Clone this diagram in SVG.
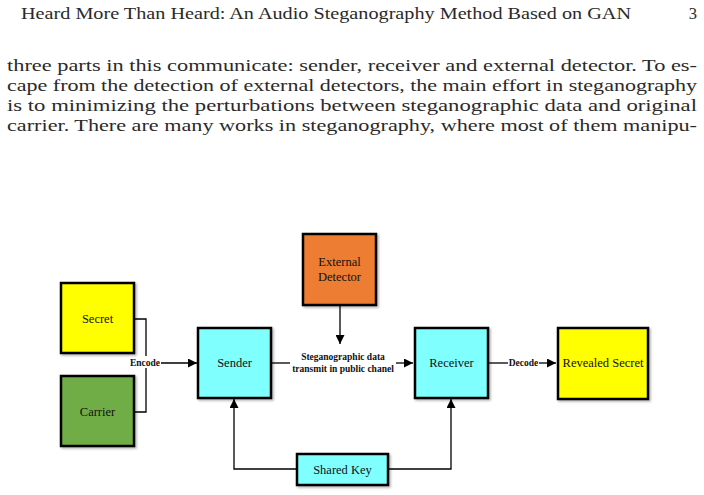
<svg xmlns="http://www.w3.org/2000/svg" width="704" height="495" viewBox="0 0 704 495">
<defs>
<marker id="ah" viewBox="0 0 10 10" refX="10" refY="5" markerWidth="9" markerHeight="9" markerUnits="userSpaceOnUse" orient="auto">
<path d="M0,0 L10,5 L0,10 z" fill="#000"/>
</marker>
<filter id="sh" x="-10%" y="-10%" width="130%" height="130%">
<feDropShadow dx="1.5" dy="1.5" stdDeviation="1" flood-color="#000" flood-opacity="0.3"/>
</filter>
</defs>
<style>
.box{stroke:#000;stroke-width:2.5;filter:url(#sh)}
.lbl{font-family:"Liberation Serif","DejaVu Serif",serif;font-size:12.5px;fill:#111;text-anchor:middle}
.cl{font-family:"Liberation Serif","DejaVu Serif",serif;font-size:9.5px;font-weight:bold;fill:#111;text-anchor:middle}
.ln{fill:none;stroke:#000;stroke-width:1.3}
.bg{fill:#fff}
</style>
<rect width="704" height="495" fill="#fff"/>
<g font-family="Liberation Serif, serif" font-size="16.5" fill="#2a2a2a">
<text x="21" y="19" textLength="610" lengthAdjust="spacingAndGlyphs">Heard More Than Heard: An Audio Steganography Method Based on GAN</text>
<text x="697" y="19" text-anchor="end">3</text>
<text x="7" y="71" textLength="690" lengthAdjust="spacingAndGlyphs">three parts in this communicate: sender, receiver and external detector. To es-</text>
<text x="7" y="91" textLength="690" lengthAdjust="spacingAndGlyphs">cape from the detection of external detectors, the main effort in steganography</text>
<text x="7" y="111" textLength="690" lengthAdjust="spacingAndGlyphs">is to minimizing the perturbations between steganographic data and original</text>
<text x="7" y="131" textLength="690" lengthAdjust="spacingAndGlyphs">carrier. There are many works in steganography, where most of them manipu-</text>
</g>

<g id="connectors">
<polyline class="ln" points="134,319 146,319 146,412 134,412"/>
<line class="ln" x1="160" y1="363" x2="197" y2="363" marker-end="url(#ah)"/>
<line class="ln" x1="271" y1="363" x2="290" y2="363"/>
<line class="ln" x1="396" y1="363" x2="413" y2="363" marker-end="url(#ah)"/>
<line class="ln" x1="340" y1="305" x2="340" y2="344" marker-end="url(#ah)"/>
<line class="ln" x1="488" y1="363" x2="508" y2="363"/>
<line class="ln" x1="539" y1="363" x2="556" y2="363" marker-end="url(#ah)"/>
<polyline class="ln" points="297,469 234,469 234,399" marker-end="url(#ah)"/>
<polyline class="ln" points="388,469 451,469 451,399" marker-end="url(#ah)"/>
<rect class="bg" x="129" y="356" width="32" height="12"/>
<text class="cl" x="145" y="366">Encode</text>
<text class="cl" x="343" y="360">Steganographic data</text>
<text class="cl" x="343" y="372">transmit in public chanel</text>
<text class="cl" x="523.5" y="366">Decode</text>
</g>

<g id="secret">
<rect class="box" x="61" y="283" width="73" height="70" fill="#FFFF00"/>
<text class="lbl" x="97.5" y="323">Secret</text>
</g>
<g id="carrier">
<rect class="box" x="61" y="376" width="73" height="70" fill="#70AD47"/>
<text class="lbl" x="97.5" y="416">Carrier</text>
</g>
<g id="sender">
<rect class="box" x="198" y="328" width="73" height="70" fill="#80FFFF"/>
<text class="lbl" x="234.5" y="367">Sender</text>
</g>
<g id="external-detector">
<rect class="box" x="303" y="234" width="73" height="71" fill="#ED7D31"/>
<text class="lbl" x="339.5" y="266">External</text>
<text class="lbl" x="339.5" y="281">Detector</text>
</g>
<g id="receiver">
<rect class="box" x="415" y="328" width="73" height="70" fill="#80FFFF"/>
<text class="lbl" x="451.5" y="367">Receiver</text>
</g>
<g id="revealed-secret">
<rect class="box" x="558" y="328" width="90" height="71" fill="#FFFF00"/>
<text class="lbl" x="603" y="367">Revealed Secret</text>
</g>
<g id="shared-key">
<rect class="box" x="297" y="454" width="91" height="31" fill="#80FFFF"/>
<text class="lbl" x="342.5" y="474">Shared Key</text>
</g>
</svg>
